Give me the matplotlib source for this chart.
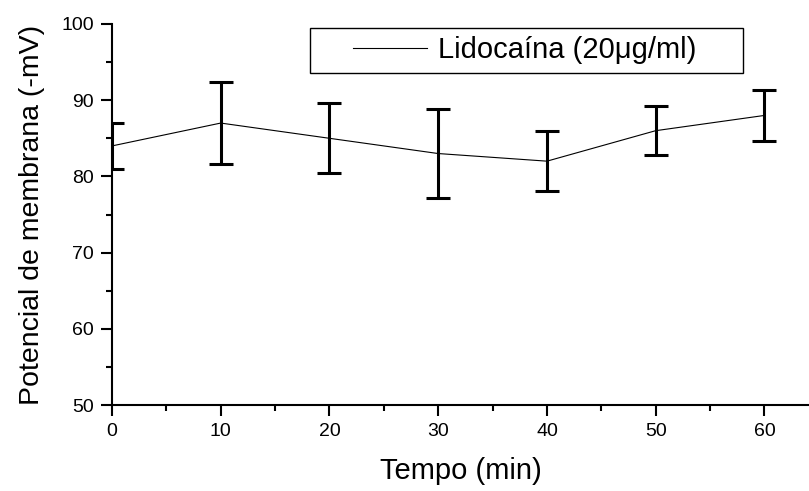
import matplotlib
matplotlib.use("Agg")
import matplotlib.pyplot as plt
from matplotlib.ticker import MultipleLocator
from matplotlib.patches import Rectangle

plt.rcParams['font.family'] = ['Liberation Sans', 'DejaVu Sans']

tempo = [0, 10, 20, 30, 40, 50, 60]
potencial = [84, 87, 85, 83, 82, 86, 88]
erro = [3.0, 5.4, 4.6, 5.9, 3.9, 3.2, 3.4]


def main():
    fig = plt.figure(figsize=(8.09, 4.91), dpi=100)
    ax = fig.add_axes([112 / 809, 86 / 491, 697 / 809, 381 / 491])

    ax.plot(tempo, potencial, color='black', lw=0.8, label='Lidocaína (20μg/ml)')
    ax.errorbar(tempo, potencial, yerr=erro, fmt='none', ecolor='black',
                elinewidth=2.2, capsize=8.6, capthick=2.2)

    ax.set_xlim(0, 64.1)
    ax.set_ylim(50, 100)
    ax.xaxis.set_major_locator(MultipleLocator(10))
    ax.xaxis.set_minor_locator(MultipleLocator(5))
    ax.yaxis.set_major_locator(MultipleLocator(10))
    ax.yaxis.set_minor_locator(MultipleLocator(5))

    ax.spines['top'].set_visible(False)
    ax.spines['right'].set_visible(False)
    for s in ('left', 'bottom'):
        ax.spines[s].set_linewidth(1.5)
    ax.tick_params(which='major', direction='out', length=8, width=1.5,
                   labelsize=14, pad=5)
    ax.tick_params(which='minor', direction='out', length=4.5, width=1.5)

    ax.set_xlabel('Tempo (min)', fontsize=21, labelpad=12)
    ax.set_ylabel('Potencial de membrana (-mV)', fontsize=20.5, labelpad=12)

    # legend: no auto frame, box drawn to match the wide padding of the original
    leg = ax.legend(loc='center left', bbox_to_anchor=(353 / 809, 1 - 50.5 / 491),
                    bbox_transform=fig.transFigure, fontsize=21, frameon=False,
                    handlelength=2.53, handletextpad=0.38, borderpad=0,
                    borderaxespad=0)
    fig.patches.append(Rectangle((310 / 809, 1 - 73.3 / 491), 433 / 809, 45.6 / 491,
                                 transform=fig.transFigure, fill=False,
                                 edgecolor='black', lw=1.0))

    fig.savefig('out.png', dpi=100)


if __name__ == "__main__":
    main()
